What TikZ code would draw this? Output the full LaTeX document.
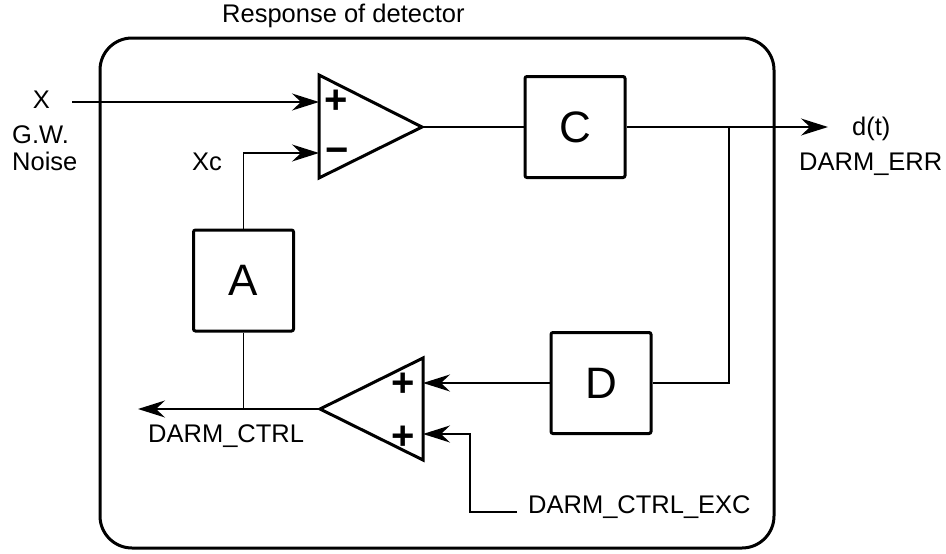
\documentclass[tikz,border=0pt]{standalone}
\usepackage{fontspec}
\setmainfont{Liberation Sans}
\usetikzlibrary{arrows.meta}
\begin{document}
\begin{tikzpicture}[x=1pt,y=-1pt,
  blk/.style={draw, line width=3pt, rounded corners=2pt, minimum width=100pt, minimum height=101pt, inner sep=0pt, font=\fontsize{44}{50}\selectfont},
  wire/.style={line width=1.5pt},
  arr/.style={wire, -{Stealth[length=27pt,width=17pt,inset=9pt]}},
  lbl/.style={font=\fontsize{25.5}{30}\selectfont, inner sep=0pt},
  sgn/.style={font=\fontsize{40}{44}\selectfont\bfseries, inner sep=0pt},
  amp/.style={draw, line width=3pt, line join=miter}
]
\useasboundingbox (0,0) rectangle (946,554);
\draw[line width=3pt, rounded corners=32pt] (100,38) rectangle (774,548);

% blocks
\node[blk] (C) at (575,127) {C};
\node[blk] (A) at (243.5,280.5) {A};
\node[blk] (D) at (601,383) {D};

% upper amplifier
\coordinate (t1l) at (319,75);
\coordinate (t1b) at (319,178);
\coordinate (t1o) at (422,127);
\coordinate (t1p) at (319,102);
\coordinate (t1m) at (319,153);
\draw[amp] (t1l) -- (t1o) -- (t1b) -- cycle;
\node[sgn] (pl1) at (336,102) {+};
\node[sgn] (mi1) at (337,156) {−};

% lower amplifier
\coordinate (t2t) at (423,358);
\coordinate (t2b) at (423,460);
\coordinate (t2o) at (320,409);
\coordinate (t2p) at (423,383);
\coordinate (t2q) at (423,434);
\draw[amp] (t2t) -- (t2o) -- (t2b) -- cycle;
\node[sgn] (pl2) at (403,385) {+};
\node[sgn] (pl3) at (403,438) {+};

% free ends
\coordinate (xin) at (72,102);
\coordinate (dout) at (828,127);
\coordinate (br) at (729,127);
\coordinate (exc) at (517,512);
\coordinate (excc) at (470,512);
\coordinate (ctrl) at (138,409);
\coordinate (ajoin) at (243.5,409);

% connectors
\draw[arr] (xin) -- (t1p);
\draw[arr] (A.north) |- (t1m);
\draw[wire] (t1o) -- (C.west);
\draw[arr] (C.east) -- (dout);
\draw[wire] (br) |- (D.east);
\draw[arr] (D.west) -- (t2p);
\draw[arr] (exc) -- (excc) |- (t2q);
\draw[arr] (t2o) -- (ctrl);
\draw[wire] (A.south) -- (ajoin);

% labels
\node[lbl, anchor=base west] (title) at (222,23) {Response of detector};
\node[lbl, anchor=base] (lx) at (41.5,108) {X};
\node[lbl, anchor=base west] (lgw) at (12,143) {G.W.};
\node[lbl, anchor=base west] (lno) at (12,170) {Noise};
\node[lbl, anchor=base west] (lxc) at (192,170) {Xc};
\node[lbl, anchor=base west] (ld) at (852,135) {d(t)};
\node[lbl, anchor=base west] (lerr) at (799,170) {DARM\_ERR};
\node[lbl, anchor=base west] (lctrl) at (148,442) {DARM\_CTRL};
\node[lbl, anchor=base west] (lexc) at (528,513) {DARM\_CTRL\_EXC};
\end{tikzpicture}
\end{document}
